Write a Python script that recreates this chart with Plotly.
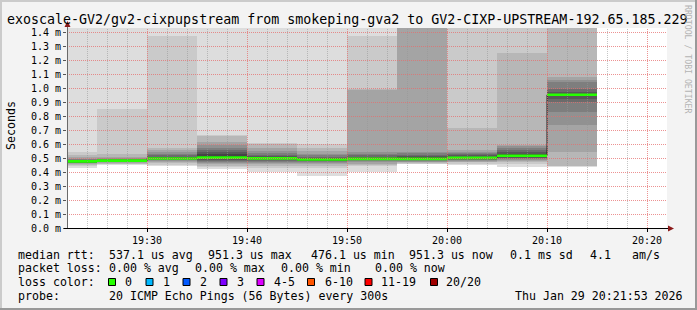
import plotly.graph_objects as go
from datetime import datetime, timedelta

# ---------------- data ----------------
interval_starts = [
    "2026-01-29 19:20:00", "2026-01-29 19:25:00", "2026-01-29 19:30:00",
    "2026-01-29 19:35:00", "2026-01-29 19:40:00", "2026-01-29 19:45:00",
    "2026-01-29 19:50:00", "2026-01-29 19:55:00", "2026-01-29 20:00:00",
    "2026-01-29 20:05:00", "2026-01-29 20:10:00",
]
step_seconds = 300

# 20 sorted ping round-trip times (ms) per 5-minute step
pings_1920 = [0.430, 0.445, 0.452, 0.458, 0.462, 0.465, 0.468, 0.470, 0.473, 0.475, 0.477, 0.479, 0.482, 0.486, 0.490, 0.495, 0.505, 0.520, 0.545, 1.600]
pings_1925 = [0.450, 0.455, 0.460, 0.465, 0.468, 0.471, 0.474, 0.476, 0.478, 0.480, 0.482, 0.484, 0.487, 0.490, 0.495, 0.500, 0.510, 0.530, 0.850, 1.600]
pings_1930 = [0.443, 0.452, 0.462, 0.470, 0.478, 0.483, 0.487, 0.490, 0.493, 0.495, 0.498, 0.503, 0.510, 0.520, 0.530, 0.545, 0.560, 0.575, 1.370, 1.600]
pings_1935 = [0.424, 0.435, 0.445, 0.455, 0.462, 0.470, 0.477, 0.484, 0.492, 0.503, 0.515, 0.530, 0.545, 0.560, 0.575, 0.590, 0.612, 0.660, 0.665, 1.600]
pings_1940 = [0.400, 0.430, 0.445, 0.455, 0.465, 0.473, 0.480, 0.485, 0.490, 0.495, 0.500, 0.505, 0.512, 0.520, 0.535, 0.552, 0.575, 0.600, 0.605, 1.600]
pings_1945 = [0.370, 0.430, 0.445, 0.455, 0.462, 0.470, 0.476, 0.480, 0.484, 0.487, 0.491, 0.497, 0.503, 0.510, 0.520, 0.530, 0.550, 0.575, 0.600, 1.600]
pings_1950 = [0.402, 0.440, 0.450, 0.460, 0.470, 0.478, 0.483, 0.487, 0.490, 0.493, 0.496, 0.502, 0.510, 0.520, 0.530, 0.540, 0.985, 0.990, 1.370, 1.600]
pings_1955 = [0.455, 0.460, 0.465, 0.470, 0.475, 0.480, 0.485, 0.488, 0.491, 0.493, 0.496, 0.505, 0.515, 0.525, 0.535, 0.545, 1.450, 1.500, 1.550, 1.600]
pings_2000 = [0.450, 0.460, 0.470, 0.475, 0.480, 0.484, 0.488, 0.492, 0.496, 0.500, 0.503, 0.510, 0.520, 0.530, 0.538, 0.545, 0.555, 0.716, 1.500, 1.600]
pings_2005 = [0.438, 0.458, 0.470, 0.478, 0.486, 0.492, 0.498, 0.503, 0.508, 0.514, 0.518, 0.530, 0.545, 0.560, 0.575, 0.585, 0.590, 1.250, 1.500, 1.600]
pings_2010 = [0.438, 0.440, 0.445, 0.545, 0.735, 0.830, 0.900, 0.920, 0.940, 0.950, 0.955, 0.960, 0.975, 0.990, 1.045, 1.060, 1.080, 1.500, 1.550, 1.600]

median_rtt = [0.476, 0.481, 0.496, 0.503, 0.497, 0.489, 0.494, 0.494, 0.501, 0.516, 0.9513]

y_ticks = [0.0, 0.1, 0.2, 0.3, 0.4, 0.5, 0.6, 0.7, 0.8, 0.9, 1.0, 1.1, 1.2, 1.3, 1.4]
y_tick_labels = ["0.0 m", "0.1 m", "0.2 m", "0.3 m", "0.4 m", "0.5 m", "0.6 m", "0.7 m",
                 "0.8 m", "0.9 m", "1.0 m", "1.1 m", "1.2 m", "1.3 m", "1.4 m"]
x_ticks = ["2026-01-29 19:30:00", "2026-01-29 19:40:00", "2026-01-29 19:50:00",
           "2026-01-29 20:00:00", "2026-01-29 20:10:00", "2026-01-29 20:20:00"]
x_tick_labels = ["19:30", "19:40", "19:50", "20:00", "20:10", "20:20"]
x_range = ["2026-01-29 19:22:00", "2026-01-29 20:22:00"]

title_text = "exoscale-GV2/gv2-cixpupstream from smokeping-gva2 to GV2-CIXP-UPSTREAM-192.65.185.229"
loss_labels = ["0", "1", "2", "3", "4-5", "6-10", "11-19", "20/20"]
loss_colors = ["#26ff00", "#00b8ff", "#0059ff", "#7e00ff", "#dd00ff", "#ff5500", "#ff0000", "#a00000"]

# ---------------- figure ----------------
all_pings = [pings_1920, pings_1925, pings_1930, pings_1935, pings_1940, pings_1945,
             pings_1950, pings_1955, pings_2000, pings_2005, pings_2010]

FONT = "DejaVu Sans Mono"
W, H = 697, 310
L, R, T, B = 67, 30, 28, 82
PW, PH = W - L - R, H - T - B


def px(xp):
    return (xp - L) / PW


def py(yp):
    return (T + PH - yp) / PH


starts = [datetime.fromisoformat(s) for s in interval_starts]
centers = [s + timedelta(seconds=step_seconds / 2) for s in starts]
ends = [s + timedelta(seconds=step_seconds) for s in starts]

fig = go.Figure()

n = len(pings_1920)
half = n // 2
for k in range(1, half + 1):
    g = int(190 / half * (half - k)) + 50
    col = "#%02x%02x%02x" % (g, g, g)
    bases = [p[k - 1] for p in all_pings]
    heights = [p[n - k] - p[k - 1] for p in all_pings]
    fig.add_trace(go.Bar(x=centers, y=heights, base=bases, width=step_seconds * 1000,
                         marker=dict(color=col, line=dict(width=0)),
                         showlegend=False, hoverinfo="skip"))

# dark median step line
fig.add_trace(go.Scatter(x=starts + [ends[-1]], y=median_rtt + [median_rtt[-1]],
                         mode="lines", line=dict(color="#202020", width=1, shape="hv"),
                         showlegend=False, hoverinfo="skip"))
# loss-coloured median segments
gx, gy = [], []
for s, e, m in zip(starts, ends, median_rtt):
    gx += [s, e, None]
    gy += [m, m, None]
fig.add_trace(go.Scatter(x=gx, y=gy, mode="lines", line=dict(color=loss_colors[0], width=2.6),
                         showlegend=False, hoverinfo="skip"))

shapes = []
# grid (drawn above the smoke like rrdtool)
x0 = datetime.fromisoformat(x_range[0])
x1 = datetime.fromisoformat(x_range[1])
t = x0 + timedelta(minutes=2)
major_set = set(datetime.fromisoformat(v) for v in x_ticks)
while t < x1:
    is_major = t in major_set
    shapes.append(dict(type="line", xref="x", yref="paper",
                       x0=t + timedelta(seconds=3), x1=t + timedelta(seconds=3), y0=0, y1=1,
                       line=dict(color="rgba(230,110,110,0.75)" if is_major else "rgba(150,150,150,0.55)",
                                 width=1, dash="1px,1px"), layer="above"))
    t += timedelta(minutes=2)
for v in y_ticks[1:]:
    yy = v - 0.5 / PH * 1.4286
    shapes.append(dict(type="line", xref="paper", yref="y", x0=0, x1=1, y0=yy, y1=yy,
                       line=dict(color="rgba(230,110,110,0.75)", width=1, dash="1px,1px"), layer="above"))

# axes with arrows
shapes.append(dict(type="line", xref="paper", yref="paper", x0=px(67.5), x1=px(67.5), y0=py(228), y1=py(24),
                   line=dict(color="#6a6a6a", width=1), layer="above"))
shapes.append(dict(type="line", xref="paper", yref="paper", x0=px(64), x1=px(670), y0=py(228.5), y1=py(228.5),
                   line=dict(color="#000000", width=1), layer="above"))
shapes.append(dict(type="path", xref="paper", yref="paper", layer="above",
                   path="M %f %f L %f %f L %f %f Z" % (px(64.5), py(27), px(70.5), py(27), px(67.5), py(21)),
                   fillcolor="#8b1a1a", line=dict(width=0)))
shapes.append(dict(type="path", xref="paper", yref="paper", layer="above",
                   path="M %f %f L %f %f L %f %f Z" % (px(668), py(225.5), px(668), py(231.5), px(674), py(228.5)),
                   fillcolor="#8b1a1a", line=dict(width=0)))

# frame
shapes.append(dict(type="rect", xref="paper", yref="paper", x0=px(0), x1=px(697), y0=py(0), y1=py(2),
                   fillcolor="#cbcbcb", line=dict(width=0), layer="above"))
shapes.append(dict(type="rect", xref="paper", yref="paper", x0=px(0), x1=px(2), y0=py(0), y1=py(310),
                   fillcolor="#cbcbcb", line=dict(width=0), layer="above"))
shapes.append(dict(type="rect", xref="paper", yref="paper", x0=px(0), x1=px(697), y0=py(308), y1=py(310),
                   fillcolor="#999999", line=dict(width=0), layer="above"))
shapes.append(dict(type="rect", xref="paper", yref="paper", x0=px(695), x1=px(697), y0=py(0), y1=py(310),
                   fillcolor="#999999", line=dict(width=0), layer="above"))

# loss colour boxes
box_x = [108.5, 146, 183, 220, 257, 307.5, 365, 430.5]
lab_x = [123.3, 160.7, 197.7, 235, 271.7, 322.7, 379.3, 444]
for bx, c in zip(box_x, loss_colors):
    shapes.append(dict(type="rect", xref="paper", yref="paper", x0=px(bx), x1=px(bx + 7), y0=py(278.5), y1=py(285.5),
                       fillcolor=c, line=dict(color="#000000", width=1), layer="above"))

annotations = []


def txt(x, y, s, size=11.6, color="#000000", anchor="left", angle=0):
    annotations.append(dict(x=px(x), y=py(y), xref="paper", yref="paper", text=s, showarrow=False,
                            xanchor=anchor, yanchor="middle", textangle=angle,
                            font=dict(family=FONT, size=size, color=color)))


txt(347.3, 19.5, title_text, size=13.3, anchor="center")
txt(11, 126, "Seconds", size=11.6, anchor="center", angle=-90)
txt(688, 59, "RRDTOOL / TOBI OETIKER", size=8.2, color="#b4b4b4", anchor="center", angle=90)

line1 = [(16, "median rtt:"), (107, "537.1 us avg"), (206, "951.3 us max"), (308.5, "476.1 us min"),
         (406.5, "951.3 us now"), (508, "0.1 ms sd"), (588, "4.1"), (630, "am/s")]
for x, s in line1:
    txt(x, 254.7, s)
line2 = [(16, "packet loss:"), (107.3, "0.00 % avg"), (193.3, "0.00 % max"), (279.3, "0.00 % min"),
         (373.3, "0.00 % now")]
for x, s in line2:
    txt(x, 268.3, s)
txt(16, 282, "loss color:")
for x, s in zip(lab_x, loss_labels):
    txt(x, 282, s)
txt(16, 296, "probe:")
txt(107.3, 296, "20 ICMP Echo Pings (56 Bytes) every 300s")
txt(513.3, 296, "Thu Jan 29 20:21:53 2026")

fig.update_layout(
    width=W, height=H, margin=dict(l=L, r=R, t=T, b=B, pad=0),
    paper_bgcolor="#f3f3f3", plot_bgcolor="#ffffff",
    barmode="overlay", bargap=0, showlegend=False,
    shapes=shapes, annotations=annotations,
    font=dict(family=FONT, color="#000000"),
)
fig.update_xaxes(type="date", range=x_range, showgrid=False, zeroline=False, showline=False,
                 tickvals=x_ticks, ticktext=x_tick_labels, ticks="outside", ticklen=3,
                 tickcolor="#000000", tickfont=dict(family=FONT, size=10, color="#000000"))
fig.update_yaxes(range=[0, 1.4286], showgrid=False, zeroline=False, showline=False,
                 tickvals=y_ticks, ticktext=y_tick_labels, ticks="outside", ticklen=3,
                 tickcolor="#555555", tickfont=dict(family=FONT, size=10, color="#000000"))

fig.write_html("out.html")
